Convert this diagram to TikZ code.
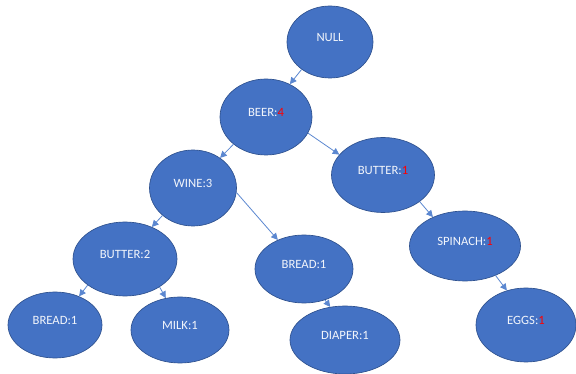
\documentclass[tikz,border=0pt]{standalone}
\usepackage{fontspec}
\setmainfont{Carlito}
\usepackage{tikz}
\usetikzlibrary{arrows.meta,shapes.geometric}
\definecolor{NodeBlue}{HTML}{4472C4}
\definecolor{NodeEdge}{HTML}{2F528F}
\definecolor{LinkBlue}{HTML}{5B87D0}
\definecolor{LabelWhite}{HTML}{F2F5FB}
\definecolor{CountRed}{HTML}{FF0000}
\newcommand{\cnt}[1]{\textcolor{CountRed}{#1}}

\begin{document}
\begin{tikzpicture}[x=0.75pt, y=-0.75pt, every node/.style={font=\fontsize{9.5}{11}\selectfont}, item/.style={ellipse, draw=NodeEdge, line width=0.5pt, fill=NodeBlue, text=LabelWhite, inner sep=0pt, text height=6pt, text depth=7pt}, sz/.style 2 args={minimum width=#1*0.75pt, minimum height=#2*0.75pt}, link/.style={-{Triangle[length=5pt,width=5pt]}, color=LinkBlue, line width=0.6pt}]
\useasboundingbox (0,0) rectangle (576,374);
\node[item, sz={86}{72}] (null) at (330,42) {NULL};
\node[item, sz={92}{76}] (beer) at (266,117) {BEER:\cnt{4}};
\node[item, sz={87}{76}] (wine) at (193,188) {WINE:3};
\node[item, sz={103}{75}] (butterA) at (383,175) {BUTTER:\cnt{1}};
\node[item, sz={104}{74}] (butterB) at (125,259) {BUTTER:2};
\node[item, sz={98}{68}] (breadR) at (304,269) {BREAD:1};
\node[item, sz={111}{70}] (spinach) at (465,246) {SPINACH:\cnt{1}};
\node[item, sz={94}{66}] (breadL) at (55,325) {BREAD:1};
\node[item, sz={98}{66}] (milk) at (180,330) {MILK:1};
\node[item, sz={110}{68}] (diaper) at (345,340) {DIAPER:1};
\node[item, sz={100}{74}] (eggs) at (526,325) {EGGS:\cnt{1}};
% links of the tree
\draw[link] (null.224) -- (beer.54);
\draw[link] (beer.220) -- (wine.48);
\draw[link] (beer.-21) -- (butterA.155);
\draw[link] (wine.222) -- (butterB.50);
\draw[link] (wine.-6) -- (breadR.132);
\draw[link] (butterB.-145) -- (breadL.50);
\draw[link] (butterB.-39) -- (milk.114);
\draw[link] (breadR.-56) -- (diaper.114);
\draw[link] (butterA.-36) -- (spinach.138);
\draw[link] (spinach.-44) -- (eggs.119);
\end{tikzpicture}
\end{document}
